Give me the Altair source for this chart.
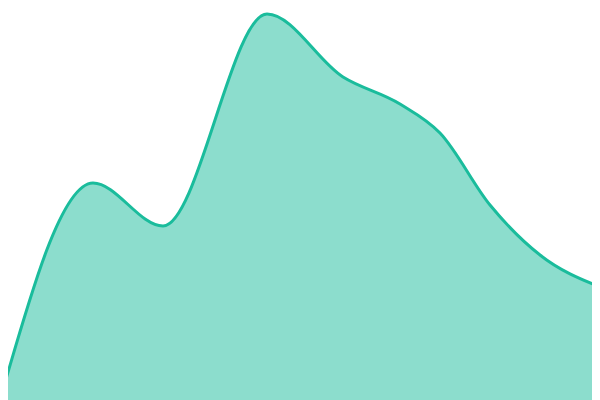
import altair as alt
import pandas as pd

# knots: horizontal position and height (0-100 scale)
xs = [0, 93, 163, 267, 343, 400, 440, 490, 540, 600]
ys_px = [400, 183, 226, 14, 77, 104, 133, 205, 255, 287]
values = [(400 - y) / 4 for y in ys_px]

df = pd.DataFrame({"x": xs, "v": values})

x_enc = alt.X("x:Q", axis=None, scale=alt.Scale(domain=[8, 592], nice=False, zero=False))
y_enc = alt.Y("v:Q", axis=None, scale=alt.Scale(domain=[0, 98], nice=False))

base = alt.Chart(df)
area = base.mark_area(interpolate="monotone", color="#1abc9c", fillOpacity=0.5, clip=True).encode(x=x_enc, y=y_enc)
line = base.mark_line(interpolate="monotone", color="#1abc9c", strokeWidth=3, clip=True).encode(x=x_enc, y=y_enc)

chart = (area + line).properties(width=584, height=392, padding=0, background="white").configure_view(stroke=None)

chart.save("out.html", embed_options={"renderer": "svg", "actions": False})
